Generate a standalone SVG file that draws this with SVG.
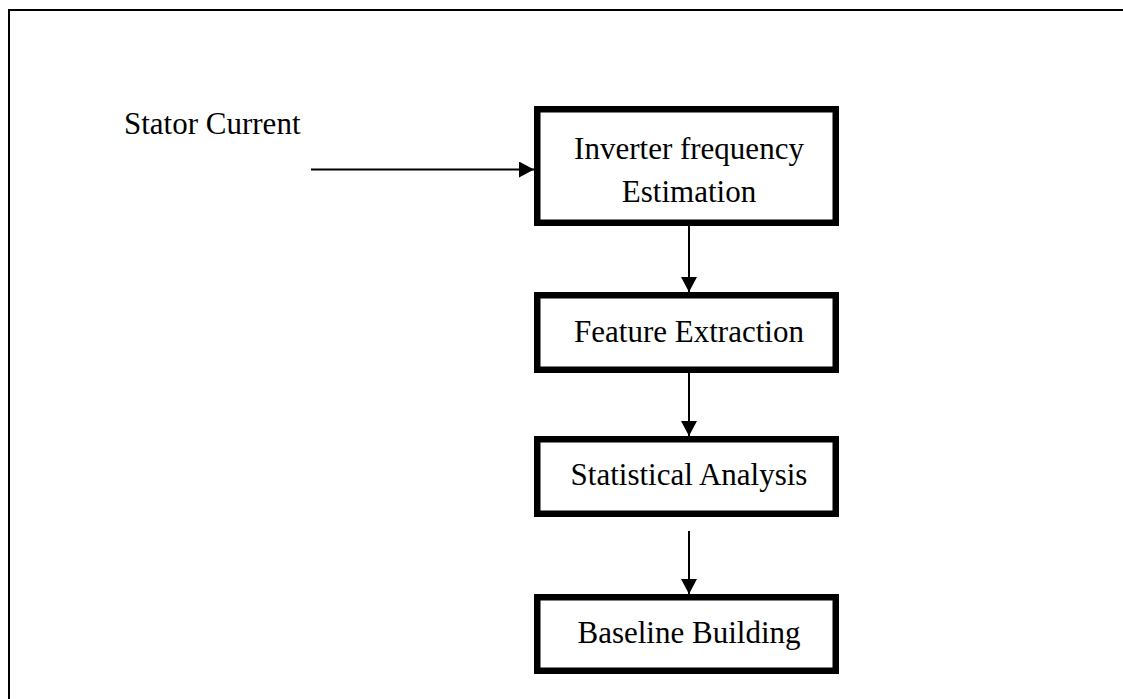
<svg xmlns="http://www.w3.org/2000/svg" width="1123" height="699" viewBox="0 0 1123 699">
  <defs>
    <marker id="arr" markerUnits="userSpaceOnUse" markerWidth="15" markerHeight="16" refX="15" refY="8" orient="auto">
      <path d="M0,0 L15,8 L0,16 z" fill="#000"/>
    </marker>
  </defs>
  <style>
    .box { fill: #fff; stroke: #000; stroke-width: 6.5; }
    .lbl { font-family: "Liberation Serif", "Times New Roman", serif; font-size: 31px; fill: #000; }
    .mid { text-anchor: middle; }
    .conn { stroke: #000; stroke-width: 2; fill: none; marker-end: url(#arr); }
  </style>
  <rect x="0" y="0" width="1123" height="699" fill="#fff"/>
  <rect x="9" y="10" width="1200" height="800" fill="none" stroke="#000" stroke-width="2"/>
  <g id="input-label">
    <text class="lbl" x="124" y="134">Stator Current</text>
  </g>
  <g id="connectors">
    <line class="conn" x1="311" y1="169.5" x2="534" y2="169.5"/>
    <line class="conn" x1="689" y1="226" x2="689" y2="292"/>
    <line class="conn" x1="689" y1="373" x2="689" y2="436"/>
    <line class="conn" x1="689" y1="531" x2="689" y2="594"/>
  </g>
  <g id="node-inverter">
    <rect class="box" x="537.25" y="109.25" width="298.5" height="113.5"/>
    <text class="lbl mid" x="689" y="158.5">Inverter frequency</text>
    <text class="lbl mid" x="689" y="201.5">Estimation</text>
  </g>
  <g id="node-feature">
    <rect class="box" x="537.25" y="295.25" width="298.5" height="74.5"/>
    <text class="lbl mid" x="689" y="341.5">Feature Extraction</text>
  </g>
  <g id="node-statistical">
    <rect class="box" x="537.25" y="439.25" width="298.5" height="74.5"/>
    <text class="lbl mid" x="689" y="484.5">Statistical Analysis</text>
  </g>
  <g id="node-baseline">
    <rect class="box" x="537.25" y="597.25" width="298.5" height="73.5"/>
    <text class="lbl mid" x="689" y="642.5">Baseline Building</text>
  </g>
</svg>
